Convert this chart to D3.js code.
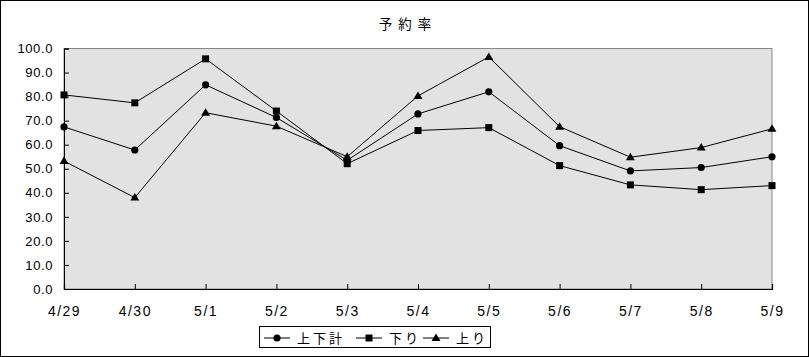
<!DOCTYPE html>
<html><head><meta charset="utf-8">
<script src="https://cdn.jsdelivr.net/npm/d3@7"></script>
<style>body{margin:0;background:#fff}svg{display:block}</style>
</head><body>
<script>
const categories = ["4/29","4/30","5/1","5/2","5/3","5/4","5/5","5/6","5/7","5/8","5/9"];
const totalSeries = [67.4,57.8,84.9,71.3,53.5,72.8,82.0,59.6,49.1,50.5,55.0];   // 上下計
const downSeries  = [80.7,77.4,95.7,74.0,52.1,65.9,67.1,51.3,43.3,41.3,43.0];   // 下り
const upSeries    = [53.2,38.0,73.3,67.7,55.0,80.3,96.5,67.5,54.8,58.8,66.6];   // 上り
const yTicks = [0,10,20,30,40,50,60,70,80,90,100];
const seriesNames = ["上下計","下り","上り"];

const W = 809, H = 357;
const svg = d3.select("body").append("svg").attr("width", W).attr("height", H);
svg.append("rect").attr("x",0.5).attr("y",0.5).attr("width",W-1).attr("height",H-1)
  .attr("fill","#fff").attr("stroke","#000");

const m = {left:64, right:772, top:48.5, bottom:289};
const x = d3.scalePoint().domain(categories).range([m.left, m.right]);
const y = d3.scaleLinear().domain([0,100]).range([m.bottom, m.top]);

svg.append("rect").attr("x",m.left).attr("y",m.top).attr("width",m.right-m.left).attr("height",m.bottom-m.top)
  .attr("fill","#e2e2e2").attr("stroke","#888");

svg.append("text").attr("x",408).attr("y",29).attr("text-anchor","middle")
  .attr("font-family","Noto Sans CJK JP").attr("font-size",13.5).attr("letter-spacing",6)
  .text("予約率");

// Y axis
const yAxis = svg.append("g").attr("transform",`translate(${m.left},0)`)
  .call(d3.axisLeft(y).tickValues(yTicks).tickSize(-5).tickPadding(11).tickFormat(d3.format(".1f")));
yAxis.select(".domain").attr("stroke","#000");
yAxis.selectAll("text").attr("font-family","Liberation Sans, Arial").attr("font-size",13)
  .attr("letter-spacing",0.6).attr("fill","#000");

// X axis
const xAxis = svg.append("g").attr("transform",`translate(0,${m.bottom})`)
  .call(d3.axisBottom(x).tickSize(-5).tickPadding(17));
xAxis.select(".domain").attr("stroke","#000").attr("stroke-width",1.2);
xAxis.selectAll("text").attr("font-family","Liberation Sans, Arial").attr("font-size",14)
  .attr("letter-spacing",1.5).attr("fill","#000");

const line = d3.line().x((d,i)=>x(categories[i])).y(d=>y(d));
const all = [totalSeries, downSeries, upSeries];
const markers = ["circle","square","triangle"];

function drawMarker(g, type, cx, cy){
  if(type==="circle") g.append("circle").attr("cx",cx).attr("cy",cy).attr("r",3.6).attr("fill","#000");
  else if(type==="square") g.append("rect").attr("x",cx-3.5).attr("y",cy-3.5).attr("width",7).attr("height",7).attr("fill","#000");
  else g.append("path").attr("d",`M${cx},${cy-4.5}L${cx+4.5},${cy+3}L${cx-4.5},${cy+3}Z`).attr("fill","#000");
}

all.forEach((s,k)=>{
  svg.append("path").attr("d",line(s)).attr("fill","none").attr("stroke","#000").attr("stroke-width",1);
  const g = svg.append("g");
  s.forEach((v,i)=>drawMarker(g, markers[k], x(categories[i]), y(v)));
});

// Legend
const lg = svg.append("g");
lg.append("rect").attr("x",259.5).attr("y",326.5).attr("width",231).attr("height",21).attr("fill","#fff").attr("stroke","#000");
const items = [{lx:264, tx:297}, {lx:356, tx:389}, {lx:423, tx:456}];
items.forEach((it,k)=>{
  lg.append("line").attr("x1",it.lx).attr("x2",it.lx+26).attr("y1",338).attr("y2",338).attr("stroke","#000");
  drawMarker(lg, markers[k], it.lx+13, 338);
  lg.append("text").attr("x",it.tx).attr("y",343).attr("font-family","Noto Sans CJK JP").attr("font-size",13)
    .attr("letter-spacing",3).text(seriesNames[k]);
});
</script>
</body></html>
